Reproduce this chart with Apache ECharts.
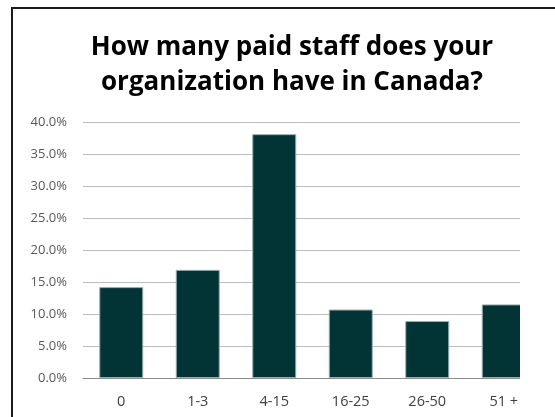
<!DOCTYPE html>
<html>
<head>
<meta charset="utf-8">
<script src="https://cdn.jsdelivr.net/npm/echarts@6/dist/echarts.min.js"></script>
<style>
  html, body { margin: 0; padding: 0; background: #fff; }
  #chart { width: 555px; height: 417px; }
</style>
</head>
<body>
<div id="chart"></div>
<script>
// Staff-size buckets and share of respondents (%)
const categories = ['0', '1-3', '4-15', '16-25', '26-50', '51 +'];
const shares = [14.2, 16.9, 38.1, 10.7, 8.9, 11.5];
const titleLines = ['How many paid staff does your', 'organization have in Canada?'];

const chart = echarts.init(document.getElementById('chart'), null, { renderer: 'canvas' });

chart.setOption({
  animation: false,
  backgroundColor: '#ffffff',
  title: {
    text: titleLines.join('\n'),
    left: 287,
    top: 25,
    textAlign: 'center',
    textStyle: {
      fontFamily: '"Open Sans", sans-serif',
      fontWeight: 'bold',
      fontSize: 26,
      lineHeight: 35,
      color: '#000'
    }
  },
  grid: {
    left: 83,
    top: 122,
    width: 459,
    height: 256,
    containLabel: false
  },
  xAxis: {
    type: 'category',
    data: categories,
    axisTick: { show: false },
    axisLine: { show: true, lineStyle: { color: '#8c8c8c', width: 1 } },
    axisLabel: {
      color: '#404040',
      fontFamily: '"Open Sans", sans-serif',
      fontSize: 14.5,
      margin: 16
    }
  },
  yAxis: {
    type: 'value',
    min: 0,
    max: 40,
    interval: 5,
    axisLine: { show: false },
    axisTick: { show: false },
    splitLine: { lineStyle: { color: '#bdbdbd', width: 1 } },
    axisLabel: {
      color: '#595959',
      fontFamily: '"Open Sans", sans-serif',
      fontSize: 13,
      margin: 16,
      formatter: v => v.toFixed(1) + '%'
    }
  },
  series: [{
    type: 'bar',
    data: shares,
    barWidth: 44,
    itemStyle: {
      color: '#023436',
      borderColor: '#9bb0b0',
      borderWidth: 1
    }
  }],
  graphic: [
    // white panel trimming the plot on the right
    {
      type: 'rect',
      z: 100,
      shape: { x: 520, y: 100, width: 40, height: 320 },
      style: { fill: '#ffffff' }
    },
    // outer frame (top and left edges)
    {
      type: 'polyline',
      z: 101,
      shape: { points: [[12, 420], [12, 8], [560, 8]] },
      style: { stroke: '#1a1a1a', lineWidth: 2, fill: null }
    }
  ]
});
</script>
</body>
</html>
